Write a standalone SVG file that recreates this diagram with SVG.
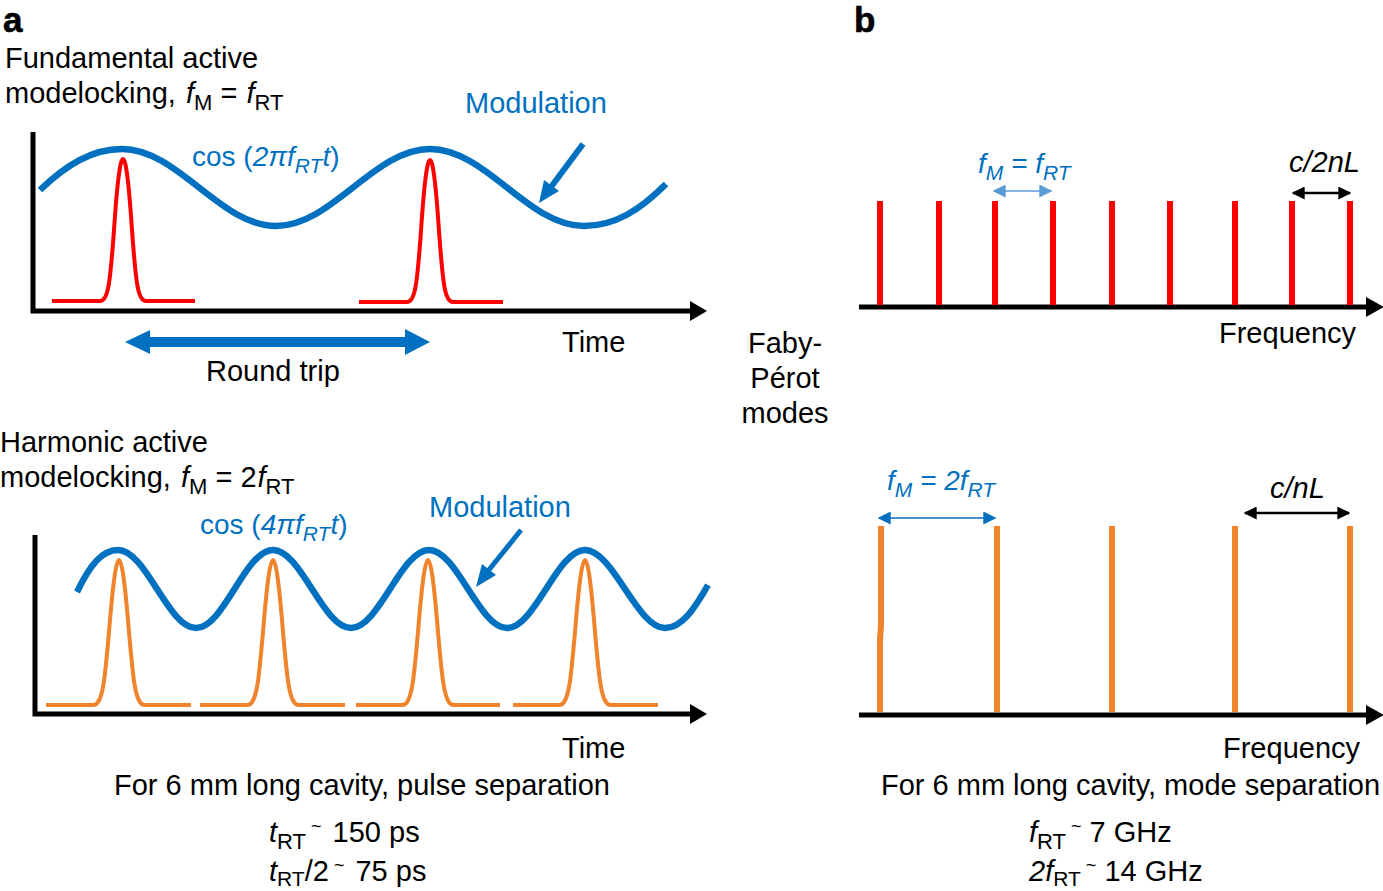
<svg xmlns="http://www.w3.org/2000/svg" width="1383" height="891" viewBox="0 0 1383 891">
<defs>
<style>
text{font-family:"Liberation Sans",Arial,sans-serif;font-size:29px;fill:#000}
.b{fill:#0070c0}
.i{font-style:italic}
.s{font-size:22px}
.t{font-size:21px}
.q{font-size:18px}
.e{font-size:28px}
.e .s{font-size:21px}
.panel{font-weight:bold;font-size:35px;stroke:#000;stroke-width:.6}
.axis{fill:none;stroke:#000;stroke-width:5}
.wave{fill:none;stroke:#0070c0;stroke-width:6.5}
.red{fill:none;stroke:#ff0000;stroke-width:4}
.org{fill:none;stroke:#f0842c;stroke-width:4}
.rl{stroke:#ff0000;stroke-width:6;fill:none}
.ol{stroke:#f0842c;stroke-width:6;fill:none}
</style>
<marker id="bk" viewBox="0 0 10 10" refX="9" refY="5" markerWidth="13" markerHeight="13" markerUnits="userSpaceOnUse" orient="auto-start-reverse"><path d="M0,0L10,5L0,10z" fill="#000"/></marker>
<marker id="bl" viewBox="0 0 10 10" refX="9" refY="5" markerWidth="13" markerHeight="13" markerUnits="userSpaceOnUse" orient="auto-start-reverse"><path d="M0,0L10,5L0,10z" fill="#0070c0"/></marker>
<marker id="lb" viewBox="0 0 10 10" refX="9" refY="5" markerWidth="13" markerHeight="13" markerUnits="userSpaceOnUse" orient="auto-start-reverse"><path d="M0,0L10,5L0,10z" fill="#5b9bd5"/></marker>
</defs>
<g id="labels">
<text class="panel" x="3" y="32">a</text>
<text class="panel" x="854" y="32">b</text>
<text x="5" y="68">Fundamental active</text>
<text x="5" y="103">modelocking, <tspan class="i" dx="2">f</tspan><tspan class="s" dy="7">M</tspan><tspan dy="-7"> = </tspan><tspan class="i" dx="1">f</tspan><tspan class="s" dy="7">RT</tspan></text>
<text class="b" x="465" y="113">Modulation</text>
<text class="b e" x="192" y="166">cos (<tspan class="i">2πf</tspan><tspan class="i s" dy="7">RT</tspan><tspan class="i" dy="-7">t</tspan>)</text>
<text x="562" y="352">Time</text>
<text x="206" y="381">Round trip</text>
<text x="785" y="353" text-anchor="middle">Faby-</text>
<text x="785" y="388" text-anchor="middle">Pérot</text>
<text x="785" y="423" text-anchor="middle">modes</text>
<text x="0" y="452">Harmonic active</text>
<text x="0" y="487">modelocking, <tspan class="i" dx="2">f</tspan><tspan class="s" dy="7">M</tspan><tspan dy="-7"> = 2</tspan><tspan class="i" dx="1">f</tspan><tspan class="s" dy="7">RT</tspan></text>
<text class="b" x="429" y="517">Modulation</text>
<text class="b e" x="200" y="534">cos (<tspan class="i">4πf</tspan><tspan class="i s" dy="7">RT</tspan><tspan class="i" dy="-7">t</tspan>)</text>
<text x="562" y="758">Time</text>
<text x="114" y="795">For 6 mm long cavity, pulse separation</text>
<text x="269" y="842"><tspan class="i">t</tspan><tspan class="s" dy="7">RT</tspan><tspan class="q" dy="-17"> ~</tspan><tspan dy="10" dx="3"> 150 ps</tspan></text>
<text x="269" y="881"><tspan class="i">t</tspan><tspan class="t" dy="5">RT</tspan><tspan dy="-5">/2</tspan><tspan class="q" dy="-10"> ~</tspan><tspan dy="10" dx="3"> 75 ps</tspan></text>
<text class="b i e" x="978" y="173">f<tspan class="s" dy="7">M</tspan><tspan dy="-7"> = f</tspan><tspan class="s" dy="7">RT</tspan></text>
<text class="i" x="1289" y="172">c/2nL</text>
<text x="1219" y="343">Frequency</text>
<text class="b i e" x="887" y="490">f<tspan class="s" dy="7">M</tspan><tspan dy="-7"> = 2f</tspan><tspan class="s" dy="7">RT</tspan></text>
<text class="i" x="1270" y="498">c/nL</text>
<text x="1223" y="758">Frequency</text>
<text x="881" y="795">For 6 mm long cavity, mode separation</text>
<text x="1029" y="842"><tspan class="i">f</tspan><tspan class="s" dy="7">RT</tspan><tspan class="q" dy="-17"> ~</tspan><tspan dy="10"> 7 GHz</tspan></text>
<text x="1029" y="881"><tspan class="i">2f</tspan><tspan class="t" dy="5">RT</tspan><tspan class="q" dy="-15"> ~</tspan><tspan dy="10"> 14 GHz</tspan></text>
</g>
<g id="axes">
<path class="axis" d="M33,132V311H692"/>
<path d="M690,301L707,311L690,321z"/>
<path class="axis" d="M35,535V714H692"/>
<path d="M690,704L707,714L690,724z"/>
<path class="axis" d="M859,307H1368"/>
<path d="M1366,297L1384,307L1366,317z"/>
<path class="axis" d="M859,715H1368"/>
<path d="M1366,705L1384,715L1366,725z"/>
</g>
<g id="pulses-a">
<path class="red" d="M52,301H100C108,301 110,285 114,230C117,185 120,159 123,159C126,159 129,185 132,230C136,285 138,301 146,301H195"/>
<path class="red" d="M359,302H407C415,302 417,286 421,231C424,186 427,160 430,160C433,160 436,186 439,231C443,286 445,302 453,302H503"/>
<path class="org" d="M46,705H93C103,705 105,680 110,620C113,585 116,560 119,560C122,560 125,585 128,620C133,680 135,705 145,705H191"/>
<path class="org" d="M200,705H247C257,705 259,680 264,620C267,585 270,560 273,560C276,560 279,585 282,620C287,680 289,705 299,705H345"/>
<path class="org" d="M356,705H402C412,705 414,680 419,620C422,585 425,560 428,560C431,560 434,585 437,620C442,680 444,705 454,705H500"/>
<path class="org" d="M513,705H559C569,705 571,680 576,620C579,585 582,560 585,560C588,560 591,585 594,620C599,680 601,705 611,705H658"/>
</g>
<g id="waves">
<path class="wave" d="M40,190C66,165 92,149 122,149C178,149 220,226 276,226C332,226 374,149 430,149C486,149 528,226 584,226C615,226 640,210 666,184"/>
<path class="wave" d="M77,592C90,565 102,550 118,550C146,550 168,628 196,628C224,628 245,550 273,550C301,550 323,628 351,628C379,628 401,550 429,550C457,550 479,628 507,628C535,628 557,550 585,550C613,550 637,628 665,628C682,628 695,608 708,585"/>
</g>
<g id="modes">
<path class="rl" d="M880,201V305M939,201V305M995,201V305M1053,201V305M1112,201V305M1170,201V305M1235,201V305M1292,201V305M1350,201V305"/>
<path class="ol" d="M881,526V625L880,640V712M997,526V712M1112,526V712M1235,526V712M1350,526V712"/>
</g>
<g id="connectors">
<path d="M125,342L150,330V337H405V329L430,342L405,355V347H150V354z" fill="#0070c0"/>
<path d="M583,144L551,187" stroke="#0070c0" stroke-width="6" fill="none"/>
<path d="M539,203L544,180L559,191z" fill="#0070c0"/>
<path d="M521,530L488,571" stroke="#0070c0" stroke-width="5" fill="none"/>
<path d="M476,587L482,564L496,575z" fill="#0070c0"/>
<path d="M994,191H1051" stroke="#5b9bd5" stroke-width="1.5" fill="none" marker-start="url(#lb)" marker-end="url(#lb)"/>
<path d="M1293,193H1350" stroke="#000" stroke-width="2.5" fill="none" marker-start="url(#bk)" marker-end="url(#bk)"/>
<path d="M879,518H995" stroke="#0070c0" stroke-width="1.5" fill="none" marker-start="url(#bl)" marker-end="url(#bl)"/>
<path d="M1245,513H1349" stroke="#000" stroke-width="2.5" fill="none" marker-start="url(#bk)" marker-end="url(#bk)"/>
</g>
</svg>
